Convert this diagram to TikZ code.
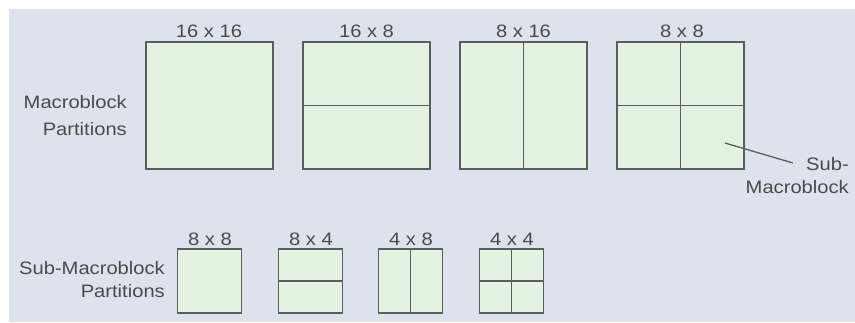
\documentclass[tikz,border=0pt]{standalone}
\usepackage{fontspec}
\setmainfont{Liberation Sans}
\newfontfamily\widefont[FakeStretch=1.12]{Liberation Sans}
\definecolor{bgc}{HTML}{DDE3EC}
\definecolor{boxfill}{HTML}{E4F2E2}
\definecolor{boxline}{HTML}{5A5E5C}
\definecolor{txt}{HTML}{4A4A4A}
\begin{document}
\begin{tikzpicture}[x=1pt,y=-1pt,
  blk/.style={draw=boxline,fill=boxfill,line width=1.9pt,minimum size=127pt,inner sep=0pt,outer sep=0pt},
  sblk/.style={blk,minimum size=64pt},
  div/.style={draw=boxline,line width=1.8pt},
  lbl/.style={text=txt,font=\widefont\fontsize{18}{20}\selectfont,inner sep=0pt,anchor=base},
  side/.style={text=txt,inner sep=0pt,align=right,anchor=east}]
\useasboundingbox (0,0) rectangle (855,322);
\fill[bgc] (9,9) rectangle (855,322);
% top row
\node[blk] (a1) at (209.5,105.5) {};
\node[blk] (a2) at (366.5,105.5) {};
\node[blk] (a3) at (523.5,105.5) {};
\node[blk] (a4) at (680.5,105.5) {};
\draw[div] (a2.west) -- (a2.east);
\draw[div] (a3.north) -- (a3.south);
\draw[div] (a4.west) -- (a4.east);
\draw[div] (a4.north) -- (a4.south);
\node[lbl] (t1) at (209,37) {16 x 16};
\node[lbl] (t2) at (366.5,37) {16 x 8};
\node[lbl] (t3) at (523.5,37) {8 x 16};
\node[lbl] (t4) at (682,37) {8 x 8};
% bottom row
\node[sblk] (b1) at (209.5,281) {};
\node[sblk] (b2) at (310.5,281) {};
\node[sblk] (b3) at (410.5,281) {};
\node[sblk] (b4) at (511.5,281) {};
\draw[div] (b2.west) -- (b2.east);
\draw[div] (b3.north) -- (b3.south);
\draw[div] (b4.west) -- (b4.east);
\draw[div] (b4.north) -- (b4.south);
\node[lbl] (u1) at (210,245) {8 x 8};
\node[lbl] (u2) at (311,245) {8 x 4};
\node[lbl] (u3) at (411,245) {4 x 8};
\node[lbl] (u4) at (512,245) {4 x 4};
% side labels
\node[side,font=\widefont\fontsize{18}{27}\selectfont] (m) at (127,116) {Macroblock\\Partitions};
\node[side,font=\widefont\fontsize{18}{23}\selectfont] (s) at (165,280) {Sub-Macroblock\\Partitions};
\node[side,font=\widefont\fontsize{18}{23}\selectfont] (sm) at (849,176) {Sub-\\Macroblock};
\coordinate (p) at (725,143);
\coordinate (q) at (793,163);
\draw[boxline,line width=1.3pt] (p) -- (q);
\end{tikzpicture}
\end{document}
